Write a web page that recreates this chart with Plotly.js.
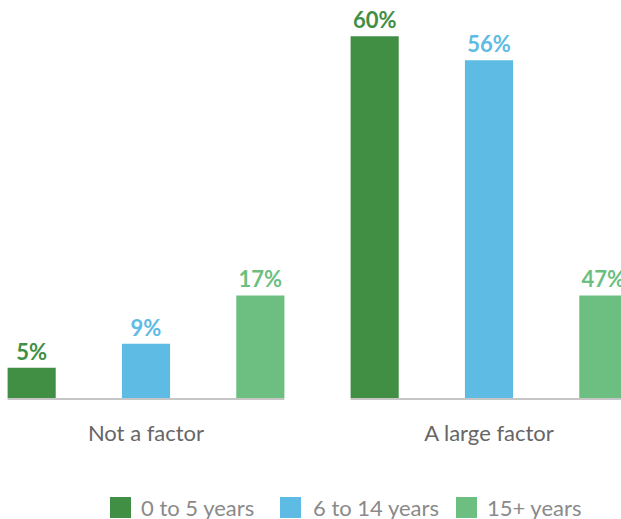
<!DOCTYPE html>
<html>
<head>
<meta charset="utf-8">
<script src="https://cdn.plot.ly/plotly-3.0.1.min.js"></script>
<style>html,body{margin:0;padding:0;background:#fff;}#chart{width:621px;height:519px;}</style>
</head>
<body>
<div id="chart"></div>
<script>
// Data
const categories = ["Not a factor", "A large factor"];
const seriesNames = ["0 to 5 years", "6 to 14 years", "15+ years"];
const zeroToFive = [5, 60];
const sixToFourteen = [9, 56];
// In the reference the "47%" bar is drawn at the same height as the 17% bar
const fifteenPlus = [17, 17];
const zeroToFiveLabels = ["5%", "60%"];
const sixToFourteenLabels = ["9%", "56%"];
const fifteenPlusLabels = ["17%", "47%"];

const colors = ["#418f44", "#5ebbe3", "#6cbf80"];
const values = [zeroToFive, sixToFourteen, fifteenPlus];
const labels = [zeroToFiveLabels, sixToFourteenLabels, fifteenPlusLabels];

const W = 621, H = 519, T = 20, B = 116;
const plotH = H - T - B;
const pxPerY = 6.03;
const yBelow = 5 / pxPerY;       // plot area extends 5px below the zero line
const pxPerUnit = 343;      // category spacing in px
const firstCenter = 146;    // px of first category center
const bargroupgap = 0.579;

const traces = seriesNames.map((name, i) => ({
  type: "bar",
  name: name,
  x: categories,
  y: values[i],
  text: labels[i],
  textposition: "outside",
  cliponaxis: false,
  textfont: {family: "Lato, sans-serif", size: 22, color: colors[i], weight: "bold"},
  marker: {color: colors[i]},
  hoverinfo: "none",
  showlegend: false
}));

const halfSpan = 0.5 - bargroupgap / 6;
const shapes = [];
categories.forEach((c, i) => {
  shapes.push({type: "line", xref: "x", yref: "y", x0: i - halfSpan, x1: i + halfSpan,
    y0: -1 / pxPerY, y1: -1 / pxPerY, line: {color: "#c6c6c6", width: 2}, layer: "below"});
});

// legend drawn manually (large square swatches)
const legendSwatchX = [110, 280, 456];
const legendTextX = [139, 311, 485];
const plotBottomPx = H - B;
const py = p => (plotBottomPx - p) / plotH;   // pixel row -> paper y
const annotations = [];
seriesNames.forEach((name, i) => {
  shapes.push({type: "rect", xref: "paper", yref: "paper",
    x0: legendSwatchX[i] / W, x1: (legendSwatchX[i] + 21) / W,
    y0: py(518), y1: py(497), fillcolor: colors[i], line: {width: 0}, layer: "above"});
  annotations.push({xref: "paper", yref: "paper", x: legendTextX[i] / W, y: py(507),
    xanchor: "left", yanchor: "middle", showarrow: false, text: name,
    font: {family: "Lato, sans-serif", size: 22, color: "#8a8a8a"}});
});

const layout = {
  width: W, height: H,
  margin: {l: 0, r: 0, t: T, b: B, pad: 0},
  paper_bgcolor: "#fff", plot_bgcolor: "#fff",
  barmode: "group",
  bargap: 0,
  bargroupgap: bargroupgap,
  showlegend: false,
  xaxis: {
    type: "category",
    range: [-firstCenter / pxPerUnit, (W - firstCenter) / pxPerUnit],
    showgrid: false, zeroline: false, showline: false, ticks: "",
    ticklabelstandoff: 15,
    tickfont: {family: "Lato, sans-serif", size: 22, color: "#666666"}
  },
  yaxis: {
    range: [-yBelow, plotH / pxPerY - yBelow],
    visible: false, showgrid: false, zeroline: false
  },
  shapes: shapes,
  annotations: annotations
};

Plotly.newPlot("chart", traces, layout, {staticPlot: true, displayModeBar: false});
</script>
</body>
</html>
